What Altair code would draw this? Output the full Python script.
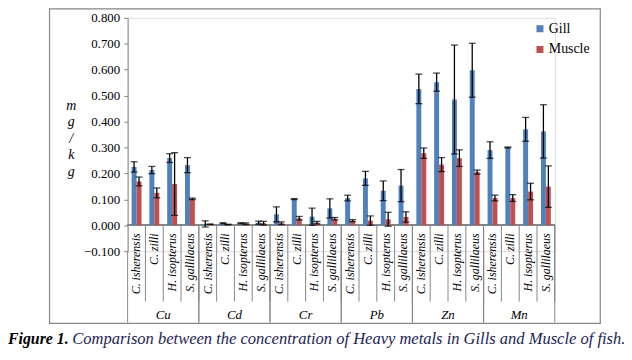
import altair as alt
import pandas as pd

metals = ["Cu", "Cd", "Cr", "Pb", "Zn", "Mn"]
species = ["C. isherensis", "C. zilli", "H. isopterus", "S. gallilaeus"]
series = ["Gill", "Muscle"]

gill = [0.225, 0.213, 0.259, 0.232,
        0.005, 0.008, 0.008, 0.010,
        0.042, 0.101, 0.033, 0.065,
        0.105, 0.181, 0.133, 0.153,
        0.526, 0.552, 0.485, 0.598,
        0.290, 0.300, 0.370, 0.362]
gill_err = [0.020, 0.014, 0.017, 0.029,
            0.012, 0.002, 0.002, 0.006,
            0.029, 0.002, 0.033, 0.037,
            0.011, 0.027, 0.038, 0.062,
            0.057, 0.035, 0.210, 0.104,
            0.032, 0.002, 0.046, 0.103]
muscle = [0.169, 0.125, 0.159, 0.102,
          0.004, 0.003, 0.006, 0.008,
          0.008, 0.027, 0.010, 0.025,
          0.018, 0.018, 0.023, 0.032,
          0.278, 0.234, 0.259, 0.205,
          0.105, 0.105, 0.130, 0.149]
muscle_err = [0.017, 0.019, 0.121, 0.003,
              0.000, 0.001, 0.003, 0.007,
              0.005, 0.007, 0.005, 0.005,
              0.004, 0.018, 0.027, 0.020,
              0.020, 0.027, 0.032, 0.008,
              0.011, 0.013, 0.032, 0.080]

y_ticks = [-0.1, 0.0, 0.1, 0.2, 0.3, 0.4, 0.5, 0.6, 0.7, 0.8]

BLUE = "#4F81BD"
RED = "#C0504D"
GREY = "#868686"
FONT = "Liberation Serif"

rows = []
cats = []
for mi, m in enumerate(metals):
    for si, s in enumerate(species):
        k = mi * 4 + si
        cat = f"{m}|{s}"
        cats.append(cat)
        rows.append(dict(cat=cat, metal=m, sp=s, series="Gill", v=gill[k],
                         lo=gill[k] - gill_err[k], hi=gill[k] + gill_err[k]))
        rows.append(dict(cat=cat, metal=m, sp=s, series="Muscle", v=muscle[k],
                         lo=muscle[k] - muscle_err[k], hi=muscle[k] + muscle_err[k]))
df = pd.DataFrame(rows)
cat_df = pd.DataFrame({"cat": cats, "sp": [c.split("|")[1] for c in cats],
                       "metal": [c.split("|")[0] for c in cats]})
grp_first = cat_df[cat_df.index % 4 == 0]
grp_last = cat_df[cat_df.index % 4 == 3]
grp_mid = pd.DataFrame({"metal": metals, "cat": [f"{m}|{species[1]}" for m in metals]})

xscale = alt.Scale(domain=cats, paddingInner=0, paddingOuter=0)
xenc = alt.X("cat:N", scale=xscale, axis=None)
yscale = alt.Scale(domain=[-0.1, 0.8], nice=False, zero=False)
yaxis = alt.Axis(values=y_ticks, format=".3f", title=None, grid=False,
                 domainColor=GREY, tickColor=GREY, tickSize=4,
                 labelFont=FONT, labelFontSize=13, labelColor="#000",
                 labelPadding=4, labelOverlap=False, labelFlush=False,
                 labelBound=False)
xoff = alt.XOffset("series:N", scale=alt.Scale(domain=series, paddingInner=0, paddingOuter=0.8))


def ydat(v):
    return alt.YDatum(v, scale=yscale, axis=yaxis, title=None)


def yf(f):
    return alt.Y(f, scale=yscale, axis=yaxis, title=None)


base = alt.Chart(df)

bars = base.mark_bar().encode(
    x=xenc,
    xOffset=xoff,
    y=yf("v:Q"),
    y2=alt.datum(0),
    color=alt.Color("series:N", scale=alt.Scale(domain=series, range=[BLUE, RED]),
                    legend=alt.Legend(title=None, orient="none", legendX=410, legendY=4,
                                      symbolType="square", symbolSize=50,
                                      symbolStrokeWidth=0, labelFont=FONT,
                                      labelFontSize=14, labelColor="#000",
                                      rowPadding=7, labelOffset=2)),
)

err = base.mark_rule(color="#000", strokeWidth=1.3).encode(
    x=xenc, xOffset=xoff, y=yf("lo:Q"), y2="hi:Q")
cap_hi = base.mark_tick(color="#000", thickness=1.3, size=7, orient="horizontal").encode(
    x=xenc, xOffset=xoff, y=yf("hi:Q"))
cap_lo = base.mark_tick(color="#000", thickness=1.3, size=7, orient="horizontal").encode(
    x=xenc, xOffset=xoff, y=yf("lo:Q"))

cbase = alt.Chart(cat_df)
zero_line = cbase.mark_rule(color=GREY).encode(
    x=alt.value(0), x2=alt.value(432), y=ydat(0))
sep = cbase.mark_rule(color=GREY).encode(
    x=alt.X("cat:N", scale=xscale, axis=None, bandPosition=1),
    y=ydat(0), y2=alt.value(287))
gsep_l = alt.Chart(grp_first).mark_rule(color=GREY).encode(
    x=alt.X("cat:N", scale=xscale, axis=None, bandPosition=0),
    y=ydat(-0.1), y2=alt.value(308))
gsep_r = alt.Chart(grp_last).mark_rule(color=GREY).encode(
    x=alt.X("cat:N", scale=xscale, axis=None, bandPosition=1),
    y=ydat(0), y2=alt.value(308))

sp_labels = cbase.mark_text(font=FONT, fontStyle="italic", fontSize=12, angle=270,
                            align="right", baseline="middle", color="#000").encode(
    x=alt.X("cat:N", scale=xscale, axis=None), y=alt.value(218), text="sp:N")

grp_labels = alt.Chart(grp_mid).mark_text(font=FONT, fontStyle="italic", fontSize=13,
                                          baseline="middle", color="#000").encode(
    x=alt.X("cat:N", scale=xscale, axis=None, bandPosition=1), y=alt.value(301), text="metal:N")

ytitle = alt.Chart(pd.DataFrame({"t": ["mg/kg"]})).mark_text(
    font=FONT, fontStyle="italic", fontSize=14, lineHeight=16.7, baseline="middle",
    color="#000").encode(x=alt.value(-57), y=alt.value(89),
                         text=alt.value(["m", "g", "/", "k", "g"]))

frame = alt.Chart(pd.DataFrame({"t": [0]})).mark_rect(
    fill=None, stroke=GREY, strokeWidth=1.2).encode(
    x=alt.value(-79), x2=alt.value(478), y=alt.value(-9), y2=alt.value(309))

cap1 = alt.Chart(pd.DataFrame({"t": ["Figure 1."]})).mark_text(
    font=FONT, fontStyle="italic", fontWeight="bold", fontSize=16, align="left",
    baseline="middle", color="#000").encode(
    x=alt.value(-121), y=alt.value(325), text="t:N")
cap2 = alt.Chart(pd.DataFrame({"t": ["Comparison between the concentration of Heavy metals in Gills and Muscle of fish."]})).mark_text(
    font=FONT, fontStyle="italic", fontSize=16.7, align="left",
    baseline="middle", color="#1c2455").encode(
    x=alt.value(-56), y=alt.value(325), text="t:N")

chart = alt.layer(frame, zero_line, sep, gsep_l, gsep_r, bars, err, cap_hi, cap_lo,
                  sp_labels, grp_labels, ytitle, cap1, cap2).properties(
    width=432, height=236,
    autosize=alt.AutoSizeParams(type="none"),
    padding={"left": 121, "top": 8, "right": 70, "bottom": 100},
).configure_view(stroke=None).configure(background="white")

chart.save("out.html", embed_options={"renderer": "svg", "actions": False})
